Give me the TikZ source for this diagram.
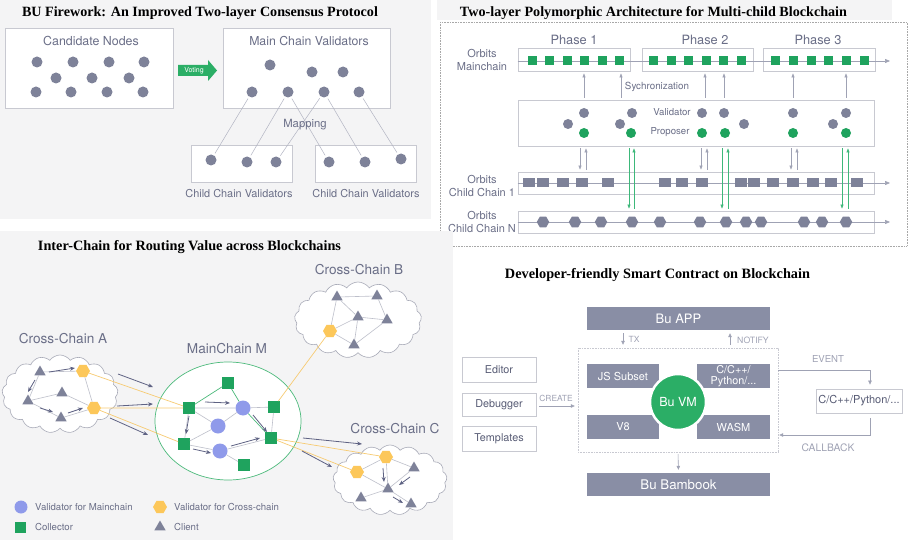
\documentclass[tikz,border=0pt]{standalone}
\usepackage{fontspec}
\usepackage{graphicx}
\setmainfont{TeX Gyre Heros}
\newfontfamily\ttlfont{Liberation Serif}
\usetikzlibrary{shapes.geometric,shapes.symbols,arrows.meta,calc}
\definecolor{bgg}{HTML}{F4F4F5}
\definecolor{dotc}{HTML}{7E8299}
\definecolor{boxl}{HTML}{C8C9D1}
\definecolor{txtc}{HTML}{6A6E87}
\definecolor{txtd}{HTML}{585C75}
\definecolor{vgreen}{HTML}{2BAE66}
\definecolor{sqg}{HTML}{1FA35E}
\definecolor{bluec}{HTML}{8F9AEA}
\definecolor{yelc}{HTML}{FCC75A}
\definecolor{yline}{HTML}{F7CB72}
\definecolor{darkarr}{HTML}{5E6283}
\definecolor{lline}{HTML}{BDBFCA}
\definecolor{cloudl}{HTML}{A9ABB8}
\definecolor{ellg}{HTML}{4DBA7C}
\definecolor{gboxc}{HTML}{898EA5}
\definecolor{arrc}{HTML}{9FA2B4}
\definecolor{garr}{HTML}{3DB87A}
\definecolor{dotb}{HTML}{A8A8A8}
\newcommand\ttl[2]{\resizebox{#1pt}{!}{\ttlfont\bfseries #2}}
\newcommand\farr[4]{\coordinate (#1s) at (#2); \coordinate (#1e) at (#3); \draw[#4] (#1s) -- (#1e);}
\begin{document}
\begin{tikzpicture}[x=1pt,y=-1pt,
  fs/.style={font=\fontsize{#1}{#1}\selectfont},
  wbox/.style={draw=boxl, fill=white, line width=0.8pt, inner sep=0},
  gdot/.style={circle, fill=dotc, inner sep=0, minimum size=11},
  vdot/.style={circle, fill=dotc, inner sep=0, minimum size=10},
  pdot/.style={circle, fill=sqg, inner sep=0, minimum size=10},
  lbl/.style={text=txtc, inner sep=0},
  mapline/.style={draw=dotc!60, line width=0.5pt, shorten <=2pt, shorten >=2pt},
  gsq/.style={rectangle, fill=sqg, inner sep=0, minimum size=9},
  gblk/.style={rectangle, fill=dotc, inner sep=0, minimum width=12.5, minimum height=9},
  ghex/.style={regular polygon, regular polygon sides=6, fill=dotc, inner sep=0, minimum size=12.5},
  chl/.style={draw=arrc, line width=0.6pt, -{Triangle[length=5pt,width=4pt]}},
  syn/.style={draw=arrc, line width=0.6pt, -{Triangle[length=4pt,width=3pt]}, shorten <=2pt, shorten >=2pt},
  gsyn/.style={syn, draw=garr},
  cloudn/.style={cloud, cloud puffs=17, cloud puff arc=110, aspect=1.5, draw=cloudl, fill=white, line width=0.6pt, inner sep=0},
  tri/.style={regular polygon, regular polygon sides=3, fill=dotc, inner sep=0, minimum size=13},
  yhex/.style={regular polygon, regular polygon sides=6, fill=yelc, inner sep=0, minimum size=14},
  bdot/.style={circle, fill=bluec, inner sep=0, minimum size=15},
  gsqm/.style={rectangle, fill=sqg, inner sep=0, minimum size=11.5},
  ge/.style={draw=lline, line width=0.6pt},
  ye/.style={draw=yline, line width=0.7pt},
  gre/.style={draw=ellg, line width=0.7pt},
  darw/.style={draw=darkarr, line width=0.8pt, -{Stealth[length=5pt,width=4pt]}},
  gbox/.style={rectangle, fill=gboxc, text=white, inner sep=0},
  tbox/.style={rectangle, draw=boxl, fill=white, line width=0.8pt, text=txtd, inner sep=0, minimum width=74, fs=10.8},
  larr/.style={draw=arrc, line width=0.6pt, -{Triangle[length=4pt,width=3.5pt]}},
  slbl/.style={text=arrc, inner sep=0}
]
\useasboundingbox (0,0) rectangle (915,540);
\fill[white] (0,0) rectangle (915,540);
% ================= TOP LEFT =================
\fill[bgg] (0,0) rectangle (431,219);
\node[inner sep=0] (t1) at (200,13) {\ttl{356}{BU Firework: An Improved Two-layer Consensus Protocol}};
\node[wbox, minimum width=168, minimum height=80] (cand) at (89,68) {};
\node[lbl, fs=12.4] (candt) at (91,41) {Candidate Nodes};
\foreach \x/\y [count=\i] in {37/62,73/62,109/62,144/62,56/78,92/78,129/78,36/92,71/92,107/92,143/92}
  \node[gdot] (cd\i) at (\x,\y) {};
\fill[vgreen] (178,65) -- (208,65) -- (208,60) -- (217,70.5) -- (208,81) -- (208,76) -- (178,76) -- cycle;
\node[fs=7, text=white, inner sep=0] (vote) at (194,70.5) {Voting};
\node[wbox, minimum width=167, minimum height=80] (mainv) at (306.5,68) {};
\node[lbl, fs=12.3] (mainvt) at (309,41) {Main Chain Validators};
\foreach \x/\y [count=\i] in {270/65,312/72,343/72,252/92,288/92,324/92,359/92}
  \node[gdot] (mv\i) at (\x,\y) {};
\node[wbox, minimum width=101, minimum height=37] (ch1) at (241.5,163.5) {};
\node[wbox, minimum width=101, minimum height=37] (ch2) at (365.5,163.5) {};
\foreach \x/\y [count=\i] in {211/160,247/162,276/162,329/162,365/162,401/159}
  \node[gdot] (cc\i) at (\x,\y) {};
\draw[mapline] (mv4) -- (cc1);
\draw[mapline] (mv5) -- (cc2);
\draw[mapline] (mv5) -- (cc4);
\draw[mapline] (mv6) -- (cc3);
\draw[mapline] (mv6) -- (cc5);
\draw[mapline] (mv7) -- (cc6);
\node[lbl, fs=11.3] (mapt) at (305,125) {Mapping};
\node[lbl, fs=10.9] (ch1t) at (239,194) {Child Chain Validators};
\node[lbl, fs=10.9] (ch2t) at (366,194) {Child Chain Validators};
% ================= TOP RIGHT =================
\fill[bgg] (437,0) rectangle (892,20);
\node[inner sep=0] (t2) at (653.5,13) {\ttl{387}{Two-layer Polymorphic Architecture for Multi-child Blockchain}};
\draw[dotb, line width=0.8pt, dash pattern=on 0.8pt off 0.8pt] (440,22) rectangle (907,246);
\node[wbox, minimum width=112, minimum height=23] (ph1) at (574,59.5) {};
\node[wbox, minimum width=111, minimum height=23] (ph2) at (697.5,59.5) {};
\node[wbox, minimum width=112, minimum height=23] (ph3) at (819,59.5) {};
\node[lbl, fs=12.8] (ph1t) at (574,40) {Phase 1};
\node[lbl, fs=12.8] (ph2t) at (705,40) {Phase 2};
\node[lbl, fs=12.8] (ph3t) at (818,40) {Phase 3};
\node[lbl, fs=11, align=center] (omt) at (482,60) {Orbits\\[2.5pt]Mainchain};
\coordinate (mend) at (890,61);
\draw[chl] (ph1.west |- 0,61) -- (mend);
\foreach \x [count=\i] in {532,549,567,584,602,619,653,671,688,706,723,741,775,793,811,828,846,864}
  \node[gsq] (ms\i) at (\x,61) {};
\node[wbox, minimum width=356, minimum height=46] (vbox) at (696,123) {};
\foreach \x in {584,621,705,724,793,846}
  \draw[syn] (vbox.north -| \x,0) -- (ph1.south -| \x,0);
\node[lbl, fs=9.8] (synt) at (657,87) {Sychronization};
\node[lbl, fs=9.6] (valt) at (672,112) {Validator};
\node[lbl, fs=9.6] (prot) at (670,132) {Proposer};
\foreach \x [count=\i] in {584,632,702,724,793,846}
  \node[vdot] (vu\i) at (\x,113) {};
\foreach \x [count=\i] in {568,620,744,833}
  \node[vdot] (vl\i) at (\x,124) {};
\foreach \x [count=\i] in {584,631,702,725,793,846}
  \node[pdot] (pp\i) at (\x,133) {};
\node[wbox, minimum width=356, minimum height=22] (cc1b) at (696,183) {};
\node[lbl, fs=11, align=center] (c1t) at (482,185.5) {Orbits\\[2pt]Child Chain 1};
\coordinate (c1end) at (890,183);
\draw[chl] (cc1b.west) -- (c1end);
\foreach \x [count=\i] in {529,543,563,582,608,665,682,702,741,754,773,793,813,831,857}
  \node[gblk] (bk\i) at (\x,183) {};
\node[wbox, minimum width=356, minimum height=22] (ccNb) at (696,222) {};
\node[lbl, fs=11, align=center] (cNt) at (482,222) {Orbits\\[2pt]Child Chain N};
\coordinate (cNend) at (890,222);
\draw[chl] (ccNb.west) -- (cNend);
\foreach \x [count=\i] in {543,575,601,632,660,700,726,746,761,804,822,846}
  \node[ghex] (hx\i) at (\x,222) {};
\foreach \a/\b in {580/586,701/707,791/797} {
  \draw[syn] (vbox.south -| \a,0) -- (cc1b.north -| \a,0);
  \draw[syn] (cc1b.north -| \b,0) -- (vbox.south -| \b,0);
}
\foreach \a/\b in {629/634,722/728,842/848} {
  \draw[gsyn] (vbox.south -| \a,0) -- (ccNb.north -| \a,0);
  \draw[gsyn] (ccNb.north -| \b,0) -- (vbox.south -| \b,0);
}
% ================= BOTTOM LEFT =================
\fill[bgg] (0,231) rectangle (453,540);
\node[inner sep=0] (t3) at (189.5,247) {\ttl{303}{Inter-Chain for Routing Value across Blockchains}};
\node[cloudn, minimum width=116, minimum height=78] (cloudA) at (60,394) {};
\node[cloudn, minimum width=127, minimum height=76] (cloudB) at (358,320) {};
\node[cloudn, minimum width=114, minimum height=70] (cloudC) at (390,480) {};
\node[ellipse, draw=ellg, fill=white, line width=0.7pt, minimum width=146, minimum height=118] (mc) at (228,421) {};
\node[lbl, fs=13.6] (cAt) at (63,339) {Cross-Chain A};
\node[lbl, fs=13.6] (cBt) at (359,270) {Cross-Chain B};
\node[lbl, fs=13.6] (cCt) at (395,429) {Cross-Chain C};
\node[lbl, fs=13.6] (mct) at (227,349) {MainChain M};
% cloud A
\node[tri] (tA1) at (40,372) {};
\node[tri] (tA2) at (28,401) {};
\node[tri] (tA3) at (62,393) {};
\node[tri] (tA4) at (61,418) {};
\node[yhex] (hA1) at (83,371) {};
\node[yhex] (hA2) at (94,408) {};
\draw[ge] (tA1)--(hA1) (tA1)--(tA2) (tA2)--(tA3) (tA2)--(tA4) (tA3)--(hA2) (tA4)--(hA2) (hA1)--(hA2);
% cloud B
\node[tri] (tB1) at (337,297) {};
\node[tri] (tB2) at (377,296) {};
\node[tri] (tB3) at (358,317) {};
\node[tri] (tB4) at (387,320) {};
\node[tri] (tB5) at (354,345) {};
\node[yhex] (hB) at (330,331) {};
\draw[ge] (tB1)--(tB2) (tB1)--(hB) (tB1)--(tB3) (tB3)--(tB4) (tB2)--(tB4) (tB3)--(hB) (tB3)--(tB5) (hB)--(tB5) (tB5)--(tB4);
% cloud C
\node[yhex] (hC1) at (386,457) {};
\node[yhex] (hC2) at (357,472) {};
\node[tri] (tC1) at (414,468) {};
\node[tri] (tC2) at (388,489) {};
\node[tri] (tC3) at (361,498) {};
\node[tri] (tC4) at (411,504) {};
\draw[ge] (hC1)--(hC2) (hC1)--(tC1) (hC1)--(tC2) (hC2)--(tC2) (tC1)--(tC2) (tC2)--(tC3) (tC2)--(tC4);
% main chain
\node[gsqm] (S1) at (228,383) {};
\node[gsqm] (S2) at (189,408) {};
\node[gsqm] (S3) at (274,407) {};
\node[gsqm] (S4) at (271,438) {};
\node[gsqm] (S5) at (184,444) {};
\node[gsqm] (S6) at (244,465) {};
\node[bdot] (C1) at (243,408) {};
\node[bdot] (C2) at (218,426) {};
\node[bdot] (C3) at (220,451) {};
\draw[gre] (S1)--(S2) (S1)--(C1) (C1)--(S4);
\draw[ge] (S2)--(C1) (C1)--(S3) (S3)--(S4) (S2)--(C2) (C2)--(C1) (S2)--(S5) (C2)--(S5) (S5)--(C3) (C3)--(S4) (C3)--(S6);
\draw[ye] (hA1)--(S2) (hA2)--(S2) (hA2)--(S5) (S3)--(hB) (S4)--(hC1) (S4)--(hC2);
% arrows
\farr{a1}{49,372}{75,368}{darw}
\farr{a2}{35,380}{28,392}{darw}
\farr{a3}{40,408}{53,412}{darw}
\farr{a4}{68,413}{83,408}{darw}
\farr{a5}{118,374}{153,387}{darw}
\farr{a6}{117,406}{153,404}{darw}
\farr{a7}{110,418}{148,435}{darw}
\farr{a8}{303,438}{362,444}{darw}
\farr{a9}{302,451}{332,467}{darw}
\farr{a10}{205,402}{230,403}{darw}
\farr{a11}{189,416}{186,434}{darw}
\farr{a12}{193,449}{211,453}{darw}
\farr{a13}{231,446}{260,438}{darw}
\farr{a14}{253,415}{267,432}{darw}
\farr{a15}{383,468}{384,482}{darw}
\farr{a16}{410,477}{399,485}{darw}
\farr{a17}{393,497}{403,503}{darw}
% legend
\node[circle, fill=bluec, inner sep=0, minimum size=13] (legblue) at (21,507) {};
\node[lbl, fs=9.6, anchor=west] (lg1t) at (35,507) {Validator for Mainchain};
\node[yhex, minimum size=14] (legyel) at (160,507) {};
\node[lbl, fs=9.6, anchor=west] (lg2t) at (174,507) {Validator for Cross-chain};
\node[gsqm, minimum size=11] (leggrn) at (20,527) {};
\node[lbl, fs=9.6, anchor=west] (lg3t) at (35,527) {Collector};
\node[tri] (legtri) at (160,527) {};
\node[lbl, fs=9.6, anchor=west] (lg4t) at (174,527) {Client};
% ================= BOTTOM RIGHT =================
\node[inner sep=0] (t4) at (657.5,275) {\ttl{305}{Developer-friendly Smart Contract on Blockchain}};
\node[gbox, minimum width=183, minimum height=23, fs=13] (app) at (678.5,318.5) {Bu APP};
\draw[boxl, line width=0.8pt, dash pattern=on 0.8pt off 0.8pt] (578,348) rectangle (778,452);
\node[inner sep=0, minimum width=200, minimum height=104] (vmbox) at (678,400) {};
\node[gbox, minimum width=72, minimum height=24, fs=11] (js) at (623,376) {JS Subset};
\node[gbox, minimum width=73, minimum height=24, fs=10.8, align=center] (cpy) at (733.5,376) {C/C++/\\[0.5pt]Python/...};
\node[gbox, minimum width=72, minimum height=24, fs=11] (v8) at (623,427) {V8};
\node[gbox, minimum width=73, minimum height=24, fs=11] (wasm) at (733.5,427) {WASM};
\node[circle, fill=vgreen, draw=white, line width=2.5pt, minimum size=56, inner sep=0, text=white, fs=12.5] (bvm) at (678,402) {Bu VM};
\node[gbox, minimum width=183, minimum height=23, fs=13.3] (bamb) at (678.5,484.5) {Bu Bambook};
\node[tbox, minimum height=25] (edit) at (499,369.5) {Editor};
\node[tbox, minimum height=23] (debug) at (499,404.5) {Debugger};
\node[tbox, minimum height=25] (tmpl) at (499,438.5) {Templates};
\node[tbox, minimum width=86, minimum height=24, fs=11] (ext) at (859,401) {C/C++/Python/...};
\draw[larr, shorten <=3pt, shorten >=3pt] (app.south -| 623,0) -- (vmbox.north -| 623,0);
\node[slbl, fs=8.5] (txt) at (634,339) {TX};
\draw[larr, shorten <=3pt, shorten >=3pt] (vmbox.north -| 730,0) -- (app.south -| 730,0);
\node[slbl, fs=8.7] (ntt) at (753,340) {NOTIFY};
\draw[larr, shorten >=4pt] (vmbox.east |- 0,370) -| (ext.north -| 870,0);
\node[slbl, fs=9.6] (evt) at (828,359) {EVENT};
\draw[larr, shorten <=5pt, shorten >=1pt] (ext.south -| 870,0) |- (vmbox.east |- 0,435);
\node[slbl, fs=10.3] (cbt) at (828,448) {CALLBACK};
\draw[larr, shorten <=3pt, shorten >=3pt] (debug.east |- 0,406) -- (vmbox.west |- 0,406);
\node[slbl, fs=8.4] (crt) at (556,398) {CREATE};
\draw[larr, shorten <=2pt, shorten >=3pt] (vmbox.south) -- (bamb.north);
\end{tikzpicture}
\end{document}
